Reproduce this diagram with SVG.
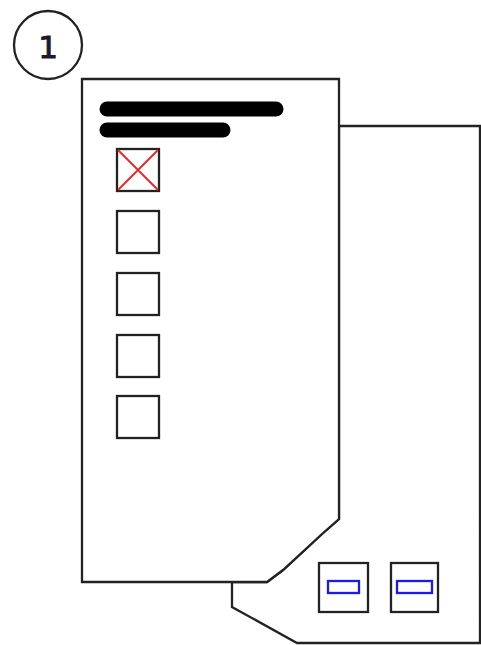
<svg xmlns="http://www.w3.org/2000/svg" width="481" height="645" viewBox="0 0 481 645">
<style>
.ln{fill:#fff;stroke:#222;stroke-width:2.3;stroke-linejoin:miter}
.cb{fill:#fff;stroke:#222;stroke-width:2.3}
.bar{stroke:#000;stroke-width:15;stroke-linecap:round}
.btn{fill:#fff;stroke:#222;stroke-width:2.3}
.blu{fill:#fff;stroke:#1a1aee;stroke-width:2.3}
</style>
<rect width="481" height="645" fill="#fff"/>
<g id="back-panel">
<path class="ln" d="M339,126 H480 V643 H297 L232,607 V582 H267 L283,570 L322,534 L339,519 Z"/>
</g>
<g id="front-panel">
<path class="ln" d="M82,79 H339 V519 L322,534 L283,570 L267,582 H82 Z"/>
<line class="bar" x1="107" y1="109" x2="276" y2="109"/>
<line class="bar" x1="107" y1="130" x2="223" y2="130"/>
</g>
<g id="badge">
<circle cx="48" cy="45" r="34" fill="#fff" stroke="#222" stroke-width="2.3"/>
<text x="48" y="58" text-anchor="middle" font-family="DejaVu Sans, sans-serif" font-size="31" fill="#1a1a2a" stroke="#1a1a2a" stroke-width="1">1</text>
</g>
<g id="checkbox-1">
<rect class="cb" x="117" y="149" width="42" height="42" stroke="#3a1a1a"/>
<path d="M118,150 L158,190 M158,150 L118,190" stroke="#ee2222" stroke-width="1.8"/>
</g>
<g id="checkbox-2"><rect class="cb" x="117" y="211" width="42" height="42"/></g>
<g id="checkbox-3"><rect class="cb" x="117" y="273" width="42" height="42"/></g>
<g id="checkbox-4"><rect class="cb" x="117" y="335" width="42" height="42"/></g>
<g id="checkbox-5"><rect class="cb" x="117" y="396" width="42" height="42"/></g>
<g id="button-1">
<rect class="btn" x="319" y="563" width="49" height="49"/>
<rect class="blu" x="328" y="581" width="31" height="12"/>
</g>
<g id="button-2">
<rect class="btn" x="391" y="563" width="47" height="49"/>
<rect class="blu" x="397" y="581" width="35" height="12"/>
</g>
</svg>
